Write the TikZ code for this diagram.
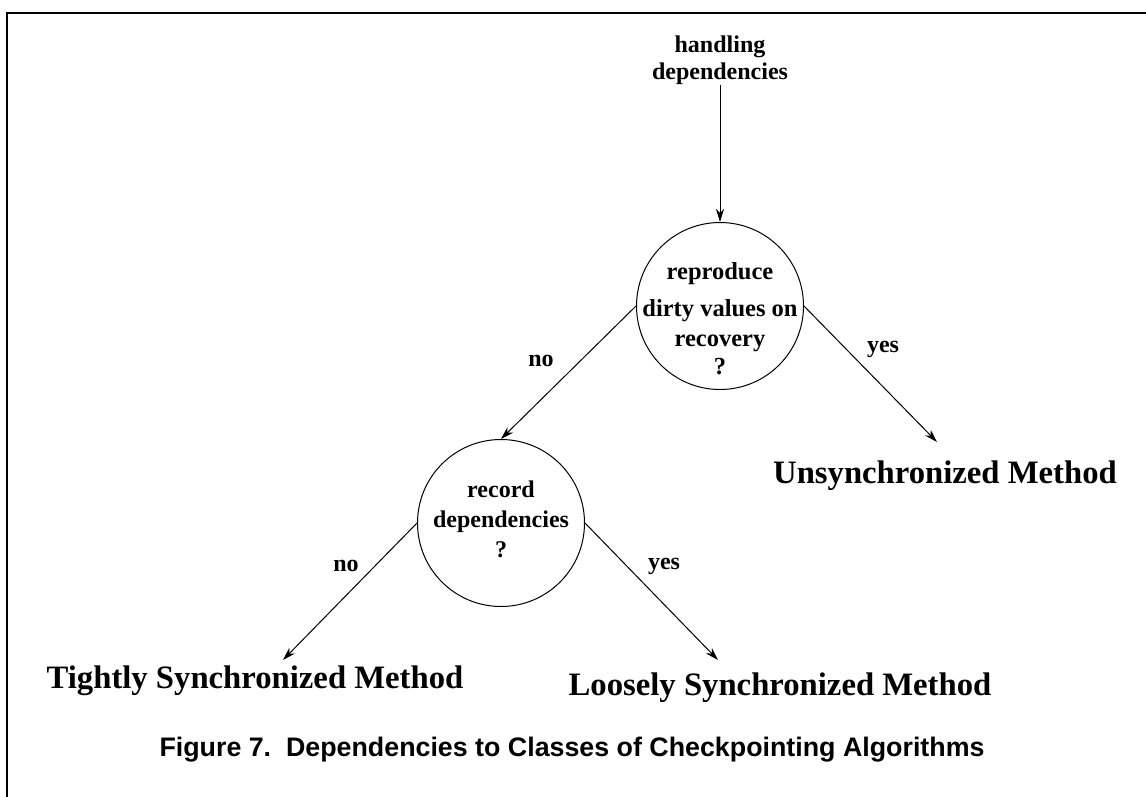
\documentclass[tikz,border=0pt]{standalone}
\usepackage{fontspec}
\setmainfont{Liberation Serif}
\newfontfamily\captionfont{Liberation Sans}
\usetikzlibrary{arrows.meta}

\begin{document}
\begin{tikzpicture}[x=1pt,y=-1pt,
  lbl/.style={font=\fontsize{24}{30}\selectfont\bfseries, align=center, inner sep=0pt},
  method/.style={font=\fontsize{32.7}{38}\selectfont\bfseries, inner sep=0pt, anchor=base},
  decision/.style={circle, draw, line width=1pt, minimum size=167pt, inner sep=0pt},
  flow/.style={line width=1pt, -{Stealth[length=13pt,width=8pt,inset=4pt]}},
  frame/.style={line width=2.5pt, line cap=rect},
]
\useasboundingbox (0,0) rectangle (1146,796);

% open frame: left and top rules
\draw[frame] (7,800) -- (7,13) -- (1150,13);

% root question
\node[lbl, font=\fontsize{24}{27}\selectfont\bfseries, anchor=north] (hd) at (720,36)
  {handling\\dependencies};

% decision circles
\node[decision] (c1) at (720,306) {};
\node[lbl, font=\fontsize{24.5}{30}\selectfont\bfseries, anchor=north] (c1txt) at (720,262)
  {reproduce\\[7pt]dirty values on\\recovery\\[-2pt]?};

\node[decision] (c2) at (501,523) {};
\node[lbl, anchor=north] (c2txt) at (501,481)
  {record\\dependencies\\?};

% outcomes
\node[method] (uns) at (945,483) {Unsynchronized Method};
\node[method] (tig) at (255,688) {Tightly Synchronized Method};
\node[method] (loo) at (780,695) {Loosely Synchronized Method};

\coordinate (unsTip) at (937,442);
\coordinate (tigTip) at (283,660);
\coordinate (looTip) at (718,660);

% connectors
\draw[flow] (hd.south) -- (c1.north);
\draw[flow] (c1.west) -- (c2.north);
\draw[flow] (c1.east) -- (unsTip);
\draw[flow] (c2.west) -- (tigTip);
\draw[flow] (c2.east) -- (looTip);

% branch labels
\node[lbl] (n1) at (541,361) {no};
\node[lbl] (y1) at (883,349) {yes};
\node[lbl] (n2) at (346,566) {no};
\node[lbl] (y2) at (664,566) {yes};

% caption
\node[font=\fontsize{26.8}{30}\captionfont\bfseries, inner sep=0pt] (cap) at (572,750)
  {Figure 7.\ \ Dependencies to Classes of Checkpointing Algorithms};
\end{tikzpicture}
\end{document}
